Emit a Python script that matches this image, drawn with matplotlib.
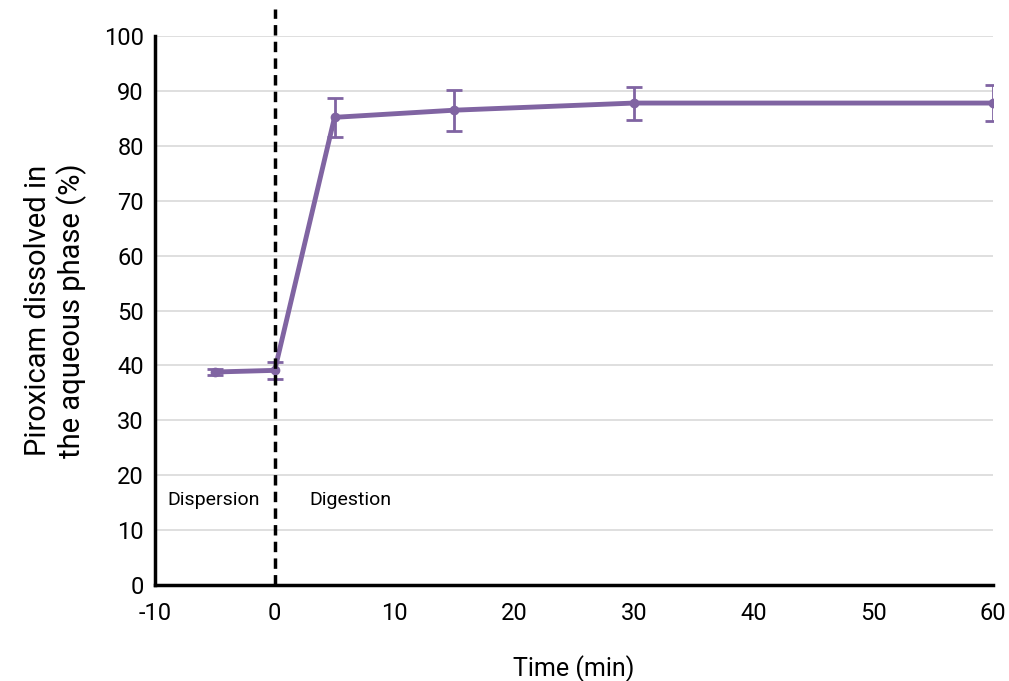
import matplotlib.pyplot as plt
import numpy as np

plt.rcParams['font.family'] = ['Roboto', 'DejaVu Sans']
plt.rcParams['axes.unicode_minus'] = False

time_min = [-5, 0, 5, 15, 30, 60]
dissolved = [38.8, 39.1, 85.2, 86.5, 87.8, 87.8]
err = [0.6, 1.5, 3.6, 3.7, 3.0, 3.2]
x_ticks = [-10, 0, 10, 20, 30, 40, 50, 60]
y_ticks = list(range(0, 101, 10))

purple = '#8064a2'

fig = plt.figure(figsize=(10.09, 6.81), dpi=100)
ax = fig.add_axes([0.1536, 0.141, 0.8305, 0.806])

# data
ax.errorbar(time_min, dissolved, yerr=err, color=purple, lw=3.5,
            marker='o', markersize=6, elinewidth=2, capsize=6, capthick=2, zorder=3)

# phase separator
ax.axvline(0, ymin=0, ymax=1.05, color='black', ls=(0, (3, 1.8)), lw=2.5, clip_on=False, zorder=4)
ax.text(-5.1, 15.5, 'Dispersion', ha='center', va='center', fontsize=14)
ax.text(6.3, 15.5, 'Digestion', ha='center', va='center', fontsize=14)

ax.set_xlim(-10, 60)
ax.set_ylim(0, 100)
ax.set_xticks(x_ticks)
ax.set_yticks(y_ticks)
ax.tick_params(length=0, labelsize=17)
ax.tick_params(axis='x', pad=12)
ax.tick_params(axis='y', pad=8)
ax.grid(axis='y', color='#d9d9d9', lw=1.2)
ax.set_axisbelow(True)

for s in ['top', 'right']:
    ax.spines[s].set_visible(False)
for s in ['left', 'bottom']:
    ax.spines[s].set_linewidth(2.5)

ax.set_xlabel('Time (min)', fontsize=18, labelpad=22)
ax.set_ylabel('Piroxicam dissolved in\nthe aqueous phase (%)', fontsize=21, labelpad=12)

fig.savefig('out.png', dpi=100)
